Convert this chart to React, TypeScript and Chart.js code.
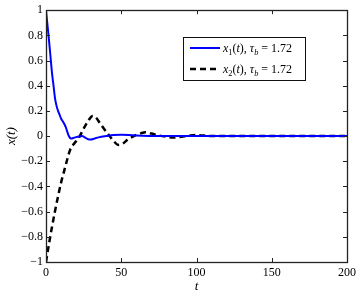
import React, { useEffect, useRef } from "react";
import { Chart, registerables } from "chart.js";

Chart.register(...registerables);

// ---- data ----
const t1: number[] = [0, 1, 2, 3, 4, 5, 6, 7, 8, 9, 10, 11, 12, 13, 14, 15, 16, 17, 18, 20, 22, 24, 26, 28, 30, 32, 35, 40, 45, 50, 55, 60, 70, 80, 200];
const x1: number[] = [1, 0.88, 0.76, 0.63, 0.5, 0.4, 0.3, 0.24, 0.2, 0.17, 0.14, 0.12, 0.1, 0.075, 0.04, 0.005, -0.015, -0.02, -0.015, -0.008, -0.003, 0, -0.012, -0.025, -0.027, -0.02, -0.01, 0, 0.008, 0.01, 0.008, 0.004, 0.001, 0, 0];

const t2: number[] = [0, 2, 4, 6, 8, 10, 12, 14, 16, 18, 20, 22, 25, 28, 31, 33, 36, 39, 42, 45, 48, 51, 54, 57, 60, 63, 66, 70, 75, 80, 85, 90, 95, 100, 105, 110, 120, 200];
const x2: number[] = [-1, -0.855, -0.72, -0.595, -0.48, -0.37, -0.28, -0.19, -0.11, -0.07, -0.04, -0.01, 0.06, 0.12, 0.16, 0.15, 0.1, 0.05, 0.005, -0.04, -0.07, -0.06, -0.03, -0.008, 0.01, 0.022, 0.03, 0.02, 0.005, -0.005, -0.012, -0.005, 0.003, 0.008, 0.004, 0.001, 0, 0];

const xTicks: number[] = [0, 50, 100, 150, 200];
const yTicks: number[] = [-1, -0.8, -0.6, -0.4, -0.2, 0, 0.2, 0.4, 0.6, 0.8, 1];

const legendLabels: string[] = ["x1(t), τb = 1.72", "x2(t), τb = 1.72"];

const SERIF = "\"Liberation Serif\", \"Times New Roman\", \"DejaVu Serif\", serif";

function fmtY(v: number): string {
  const r = Math.round(v * 10) / 10;
  if (r === 0) return "0";
  const s = Math.abs(r).toString();
  return (r < 0 ? "\u2212" : "") + s;
}

type Piece = { text: string; italic?: boolean; sub?: boolean };

function drawMath(ctx: CanvasRenderingContext2D, pieces: Piece[], x: number, y: number, size: number) {
  let cx = x;
  ctx.textBaseline = "alphabetic";
  ctx.textAlign = "left";
  for (const p of pieces) {
    const sz = p.sub ? size * 0.7 : size;
    ctx.font = `${p.italic ? "italic " : ""}${sz}px ${SERIF}`;
    const dy = p.sub ? size * 0.25 : 0;
    ctx.fillText(p.text, cx, y + dy);
    cx += ctx.measureText(p.text).width;
  }
}

function labelPieces(label: string): Piece[] {
  const idx = label.charAt(1);
  const value = label.split("=")[1].trim();
  return [
    { text: "x", italic: true },
    { text: idx, sub: true },
    { text: "(" },
    { text: "t", italic: true },
    { text: ")," },
    { text: " " },
    { text: "τ", italic: true },
    { text: "b", italic: true, sub: true },
    { text: " = " + value },
  ];
}

const framePlugin = {
  id: "frame",
  afterDatasetsDraw(chart: any) {
    const ctx: CanvasRenderingContext2D = chart.ctx;
    const { left, right, top, bottom } = chart.chartArea;
    const xs = chart.scales.x;
    const ys = chart.scales.y;
    ctx.save();
    ctx.strokeStyle = "#222";
    ctx.lineWidth = 1;
    const tl = 4;
    ctx.beginPath();
    for (const v of xTicks) {
      const px = Math.round(xs.getPixelForValue(v)) + 0.5;
      ctx.moveTo(px, bottom);
      ctx.lineTo(px, bottom - tl);
      ctx.moveTo(px, top);
      ctx.lineTo(px, top + tl);
    }
    for (const v of yTicks) {
      const py = Math.round(ys.getPixelForValue(v)) + 0.5;
      ctx.moveTo(left, py);
      ctx.lineTo(left + tl, py);
      ctx.moveTo(right, py);
      ctx.lineTo(right - tl, py);
    }
    ctx.stroke();
    ctx.lineWidth = 1.3;
    ctx.strokeRect(Math.round(left) + 0.5, Math.round(top) + 0.5, Math.round(right - left), Math.round(bottom - top));

    // legend
    const bx = 183.5, by = 37.5, bw = 122, bh = 43;
    ctx.fillStyle = "#fff";
    ctx.fillRect(bx, by, bw, bh);
    ctx.strokeStyle = "#111";
    ctx.lineWidth = 1;
    ctx.strokeRect(bx, by, bw, bh);
    const rows = [48, 69];
    const colors = ["#0000ff", "#000000"];
    const dashes = [[], [6, 4]];
    const widths = [2, 2.5];
    rows.forEach((ry, i) => {
      ctx.beginPath();
      ctx.setLineDash(dashes[i]);
      ctx.strokeStyle = colors[i];
      ctx.lineWidth = widths[i];
      ctx.moveTo(190, ry);
      ctx.lineTo(220, ry);
      ctx.stroke();
      ctx.setLineDash([]);
      ctx.fillStyle = "#000";
      drawMath(ctx, labelPieces(legendLabels[i]), 223, ry + 4, 12);
    });
    ctx.restore();
  },
};

export default function App() {
  const ref = useRef<HTMLCanvasElement | null>(null);
  useEffect(() => {
    document.body.style.margin = "0";
    document.body.style.background = "#fff";
    const canvas = ref.current!;
    Chart.defaults.font.family = SERIF;
    const chart = new Chart(canvas, {
      type: "line",
      data: {
        datasets: [
          {
            label: legendLabels[0],
            data: t1.map((t, i) => ({ x: t, y: x1[i] })),
            borderColor: "#0000ff",
            borderWidth: 2,
            pointRadius: 0,
            cubicInterpolationMode: "monotone",
            fill: false,
          },
          {
            label: legendLabels[1],
            data: t2.map((t, i) => ({ x: t, y: x2[i] })),
            borderColor: "#000000",
            borderWidth: 2.5,
            borderDash: [6, 4],
            pointRadius: 0,
            cubicInterpolationMode: "monotone",
            fill: false,
          },
        ],
      },
      options: {
        responsive: false,
        animation: false,
        layout: { padding: { left: 0, right: 10, top: 7, bottom: 0 } },
        plugins: { legend: { display: false }, tooltip: { enabled: false } },
        scales: {
          x: {
            type: "linear",
            min: 0,
            max: 200,
            grid: { display: false, drawTicks: false },
            border: { display: false },
            afterFit: (s: any) => {
              s.height = 33;
            },
            afterBuildTicks: (s: any) => {
              s.ticks = xTicks.map((v) => ({ value: v }));
            },
            ticks: {
              color: "#000",
              padding: 4,
              maxRotation: 0,
              font: { family: SERIF, size: 12 },
              callback: (v: any) => String(v),
            },
            title: {
              display: true,
              text: "t",
              color: "#000",
              padding: { top: 0, bottom: 1 },
              font: { family: SERIF, size: 13, style: "italic" },
            },
          },
          y: {
            type: "linear",
            min: -1,
            max: 1,
            grid: { display: false, drawTicks: false },
            border: { display: false },
            afterFit: (s: any) => {
              s.width = 46;
            },
            afterBuildTicks: (s: any) => {
              s.ticks = yTicks.map((v) => ({ value: v }));
            },
            ticks: {
              color: "#000",
              padding: 3,
              font: { family: SERIF, size: 12 },
              callback: (v: any) => fmtY(Number(v)),
            },
            title: {
              display: true,
              text: "x(t)",
              color: "#000",
              padding: { top: 4, bottom: 0 },
              font: { family: SERIF, size: 13, style: "italic" },
            },
          },
        },
      },
      plugins: [framePlugin],
    } as any);
    return () => chart.destroy();
  }, []);
  return (
    <div style={{ position: "absolute", left: 0, top: 0, width: 360, height: 295, background: "#fff", fontFamily: SERIF }}>
      <canvas ref={ref} width={360} height={295} style={{ display: "block" }} />
    </div>
  );
}
